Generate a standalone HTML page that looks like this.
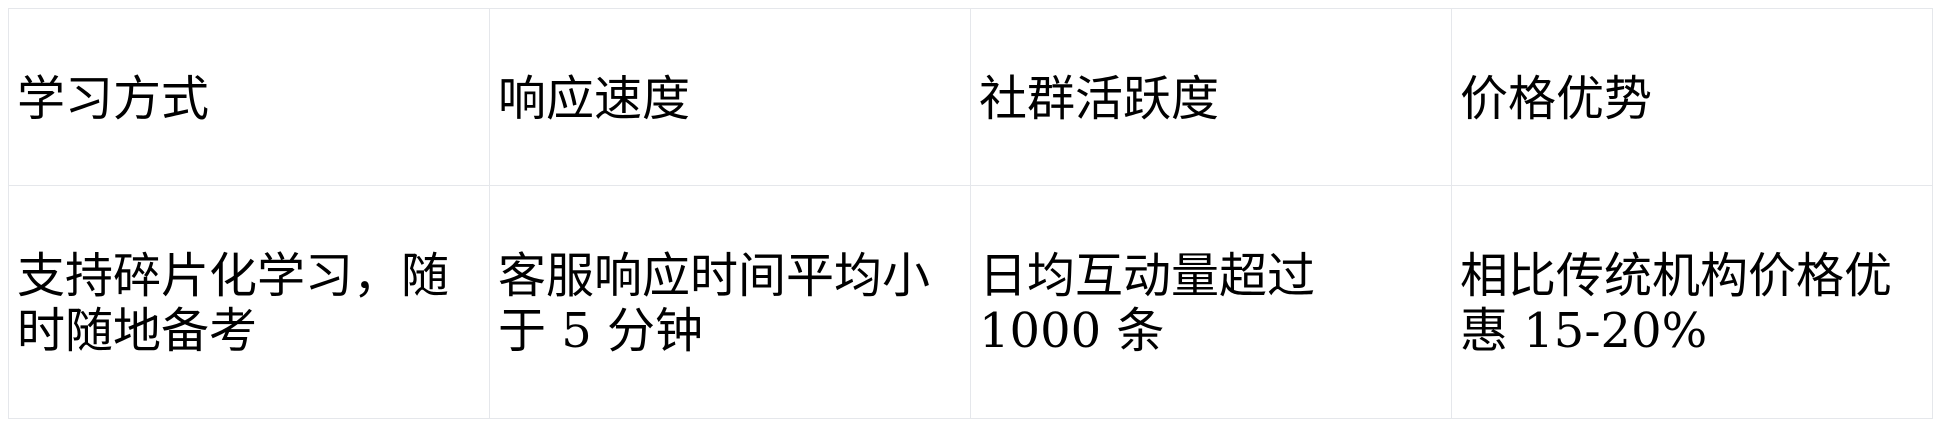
<!DOCTYPE html>
<html><head><meta charset="utf-8"><style>
html,body{margin:0;padding:0;background:#fff;width:1940px;height:426px;overflow:hidden}
table{position:absolute;left:8px;top:8px;border-collapse:collapse;table-layout:fixed;width:1924px}
td{border:1px solid #e5e7eb;padding:4px 8px 0 8px;vertical-align:middle;font-family:"DejaVu Serif","Noto Sans CJK SC",sans-serif;font-size:48px;line-height:55px;color:#000}
tr.h td{height:172px}
tr.b td{height:228px}
</style></head><body>
<table>
<colgroup><col style="width:481px"><col style="width:481px"><col style="width:481px"><col style="width:481px"></colgroup>
<tr class="h"><td>学习方式</td><td>响应速度</td><td>社群活跃度</td><td>价格优势</td></tr>
<tr class="b"><td>支持碎片化学习，随时随地备考</td><td>客服响应时间平均小于 5 分钟</td><td>日均互动量超过 1000 条</td><td>相比传统机构价格优惠 15-20%</td></tr>
</table>
</body></html>
